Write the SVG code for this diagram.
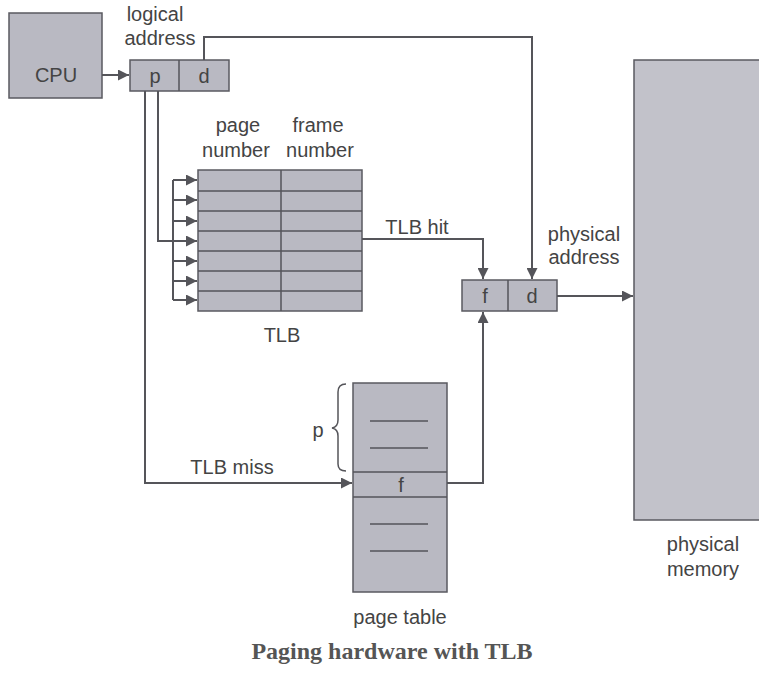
<svg xmlns="http://www.w3.org/2000/svg" width="759" height="674" viewBox="0 0 759 674">
<style>
.box{fill:#b9b9c2;stroke:#5a5a60;stroke-width:1.5}
.ln{fill:none;stroke:#55555a;stroke-width:2}
.in{stroke:#55555a;stroke-width:1.5}
.t{font-family:"Liberation Sans",Arial,sans-serif;font-size:20px;fill:#444;text-anchor:middle}
.cap{font-family:"Liberation Serif","Times New Roman",serif;font-size:24px;font-weight:bold;fill:#555;text-anchor:middle}
</style>
<defs>
<marker id="ah" viewBox="0 0 10 10" refX="10" refY="5" markerWidth="5.5" markerHeight="5.5" orient="auto" markerUnits="strokeWidth">
<path d="M0,0 L10,5 L0,10 z" fill="#55555a"/>
</marker>
</defs>
<rect width="759" height="674" fill="#fff"/>
<g id="cpu">
<rect class="box" x="9" y="13" width="93" height="85"/>
<text class="t" x="56" y="82">CPU</text>
</g>
<g id="logical-address">
<rect class="box" x="130" y="60" width="99" height="31"/>
<line class="in" x1="179" y1="60" x2="179" y2="91"/>
<text class="t" x="155" y="83">p</text>
<text class="t" x="204" y="83">d</text>
<text class="t" x="155" y="21">logical</text>
<text class="t" x="160" y="45">address</text>
</g>
<g id="tlb">
<rect class="box" x="198" y="170" width="164" height="141"/>
<line class="in" x1="281" y1="170" x2="281" y2="311"/>
<line class="in" x1="198" y1="191" x2="362" y2="191"/>
<line class="in" x1="198" y1="211" x2="362" y2="211"/>
<line class="in" x1="198" y1="231" x2="362" y2="231"/>
<line class="in" x1="198" y1="251" x2="362" y2="251"/>
<line class="in" x1="198" y1="271" x2="362" y2="271"/>
<line class="in" x1="198" y1="291" x2="362" y2="291"/>
<text class="t" x="238" y="132">page</text>
<text class="t" x="236" y="157">number</text>
<text class="t" x="318" y="132">frame</text>
<text class="t" x="320" y="157">number</text>
<text class="t" x="282" y="342">TLB</text>
</g>
<g id="physical-address">
<rect class="box" x="462" y="280" width="95" height="31"/>
<line class="in" x1="508" y1="280" x2="508" y2="311"/>
<text class="t" x="485" y="303">f</text>
<text class="t" x="532" y="303">d</text>
<text class="t" x="584" y="241">physical</text>
<text class="t" x="584" y="264">address</text>
</g>
<g id="page-table">
<rect class="box" x="353" y="383" width="94" height="209"/>
<line class="in" x1="353" y1="472" x2="447" y2="472"/>
<line class="in" x1="353" y1="497" x2="447" y2="497"/>
<line class="in" x1="370" y1="421" x2="428" y2="421"/>
<line class="in" x1="370" y1="448" x2="428" y2="448"/>
<line class="in" x1="370" y1="524" x2="428" y2="524"/>
<line class="in" x1="370" y1="551" x2="428" y2="551"/>
<text class="t" x="401" y="492">f</text>
<path d="M346,384 Q338,384 338,392 L338,420 Q338,427 332,428 Q338,429 338,436 L338,464 Q338,471 346,471" fill="none" stroke="#55555a" stroke-width="1.5"/>
<text class="t" x="318" y="437">p</text>
<text class="t" x="400" y="624">page table</text>
</g>
<g id="physical-memory">
<rect class="box" x="634" y="60" width="130" height="460" style="fill:#c2c2ca"/>
<text class="t" x="703" y="551">physical</text>
<text class="t" x="703" y="576">memory</text>
</g>
<g id="connectors">
<line class="ln" x1="102" y1="75" x2="129" y2="75" marker-end="url(#ah)"/>
<polyline class="ln" points="204,60 204,37 532,37 532,279" marker-end="url(#ah)"/>
<polyline class="ln" points="158,91 158,241 197,241" marker-end="url(#ah)"/>
<polyline class="ln" points="145,91 145,483 352,483" marker-end="url(#ah)"/>
<line class="ln" x1="173" y1="180" x2="173" y2="300"/>
<line class="ln" x1="173" y1="180" x2="197" y2="180" marker-end="url(#ah)"/>
<line class="ln" x1="173" y1="200" x2="197" y2="200" marker-end="url(#ah)"/>
<line class="ln" x1="173" y1="221" x2="197" y2="221" marker-end="url(#ah)"/>
<line class="ln" x1="173" y1="261" x2="197" y2="261" marker-end="url(#ah)"/>
<line class="ln" x1="173" y1="281" x2="197" y2="281" marker-end="url(#ah)"/>
<line class="ln" x1="173" y1="300" x2="197" y2="300" marker-end="url(#ah)"/>
<polyline class="ln" points="362,239 483,239 483,279" marker-end="url(#ah)"/>
<polyline class="ln" points="447,483 483,483 483,312" marker-end="url(#ah)"/>
<line class="ln" x1="557" y1="296" x2="633" y2="296" marker-end="url(#ah)"/>
<text class="t" x="417" y="234">TLB hit</text>
<text class="t" x="232" y="474">TLB miss</text>
</g>
<text class="cap" x="392" y="659">Paging hardware with TLB</text>
</svg>
